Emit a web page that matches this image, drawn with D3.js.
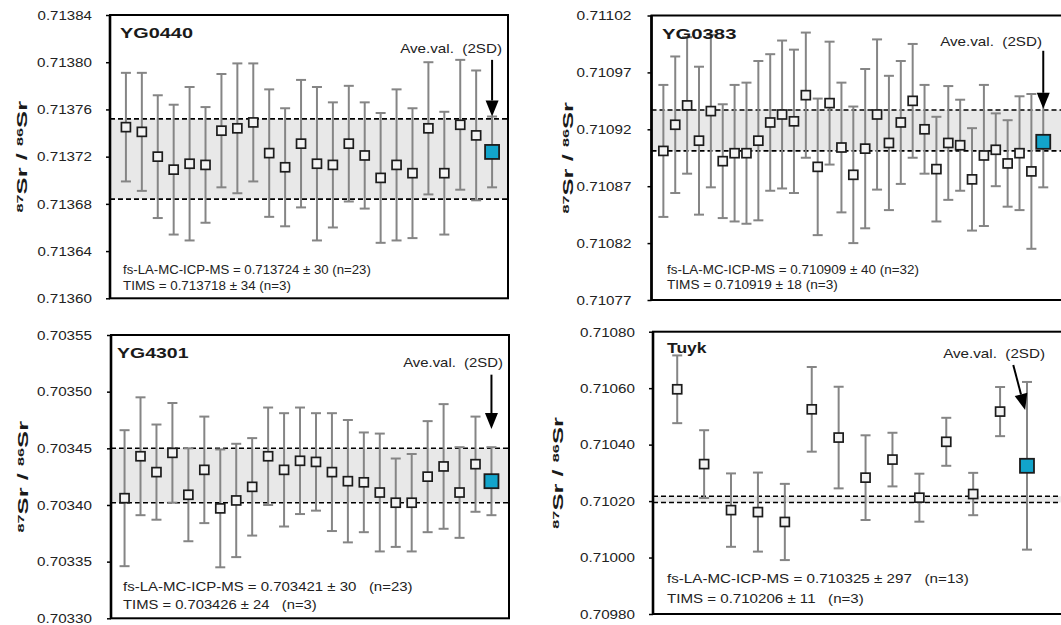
<!DOCTYPE html>
<html>
<head>
<meta charset="utf-8">
<script src="https://cdn.jsdelivr.net/npm/d3@7"></script>
<style>
  html, body { margin: 0; padding: 0; background: #fff; }
  svg { display: block; font-family: "Liberation Sans", Arial, sans-serif; }
  text { white-space: pre; }
</style>
</head>
<body>
<svg id="chart" width="1061" height="625"></svg>
<script>
// ---- Sample names ----
const sampleNames = ["YG0440", "YG0383", "YG4301", "Tuyk"];

// ---- Individual spot analyses: 87Sr/86Sr and 2SD ----
const yg0440Values = [0.713745, 0.713741, 0.713720, 0.713709, 0.713714, 0.713713, 0.713742, 0.713744,
  0.713749, 0.713723, 0.713711, 0.713731, 0.713714, 0.713713, 0.713731, 0.713721, 0.713702, 0.713713,
  0.713706, 0.713744, 0.713706, 0.713747, 0.713738];
const yg0440Errors = [0.000046, 0.000050, 0.000052, 0.000055, 0.000065, 0.000049, 0.000048, 0.000055,
  0.000050, 0.000054, 0.000050, 0.000054, 0.000065, 0.000053, 0.000049, 0.000045, 0.000055, 0.000064,
  0.000055, 0.000056, 0.000052, 0.000055, 0.000055];

const yg0383Values = [0.710901, 0.710924, 0.710941, 0.710910, 0.710936, 0.710892, 0.710899, 0.710899,
  0.710910, 0.710926, 0.710933, 0.710927, 0.710950, 0.710887, 0.710943, 0.710904, 0.710880, 0.710903,
  0.710933, 0.710908, 0.710926, 0.710945, 0.710920, 0.710885, 0.710908, 0.710906, 0.710876, 0.710897,
  0.710902, 0.710890, 0.710899, 0.710883];
const yg0383Errors = [0.000058, 0.000060, 0.000060, 0.000065, 0.000067, 0.000050, 0.000060, 0.000062,
  0.000070, 0.000060, 0.000065, 0.000063, 0.000055, 0.000060, 0.000054, 0.000057, 0.000060, 0.000070,
  0.000066, 0.000059, 0.000054, 0.000050, 0.000039, 0.000046, 0.000050, 0.000040, 0.000045, 0.000062,
  0.000032, 0.000038, 0.000050, 0.000068];

const yg4301Values = [0.703406, 0.703443, 0.703429, 0.703446, 0.703409, 0.703431, 0.703397, 0.703404,
  0.703416, 0.703443, 0.703431, 0.703439, 0.703438, 0.703429, 0.703421, 0.703420, 0.703411, 0.703402,
  0.703402, 0.703425, 0.703434, 0.703411, 0.703436];
const yg4301Errors = [0.000060, 0.000052, 0.000042, 0.000044, 0.000041, 0.000047, 0.000052, 0.000050,
  0.000043, 0.000043, 0.000050, 0.000047, 0.000043, 0.000052, 0.000054, 0.000044, 0.000052, 0.000039,
  0.000043, 0.000049, 0.000055, 0.000040, 0.000042];

const tuykValues = [0.710596, 0.710331, 0.710168, 0.710161, 0.710126, 0.710525, 0.710425, 0.710283,
  0.710347, 0.710212, 0.710410, 0.710225, 0.710517];
const tuykErrors = [0.000120, 0.000120, 0.000130, 0.000140, 0.000135, 0.000150, 0.000180, 0.000150,
  0.000095, 0.000085, 0.000085, 0.000075, 0.000087];

// ---- Averages [value, 2SD, n] ----
const yg0440Ave = [0.713724, 0.000030, 23];
const yg0383Ave = [0.710909, 0.000040, 32];
const yg4301Ave = [0.703421, 0.000030, 23];
const tuykAve   = [0.710325, 0.000297, 13];

// ---- TIMS reference values [value, 2SD, n] (shaded band) ----
const yg0440Tims = [0.713718, 0.000034, 3];
const yg0383Tims = [0.710919, 0.000018, 3];
const yg4301Tims = [0.703426, 0.000024, 3];
const tuykTims   = [0.710206, 0.000011, 3];

// ---- Y-axis tick values ----
const yg0440Ticks = [0.71360, 0.71364, 0.71368, 0.71372, 0.71376, 0.71380, 0.71384];
const yg0383Ticks = [0.71077, 0.71082, 0.71087, 0.71092, 0.71097, 0.71102];
const yg4301Ticks = [0.70330, 0.70335, 0.70340, 0.70345, 0.70350, 0.70355];
const tuykTicks   = [0.70980, 0.71000, 0.71020, 0.71040, 0.71060, 0.71080];

// ---- Arrow pointing to the average: [x0, y0, x1, y1] in data units ----
const yg0440Arrow = [24, 0.713802, 24, 0.713754];
const yg0383Arrow = [33, 0.710989, 33, 0.710938];
const yg4301Arrow = [24, 0.703515, 24, 0.703467];
const tuykArrow   = [13.49, 0.710682, 13.93, 0.710523];

// ---- Panel layout ----
const panels = [
  { name: sampleNames[0], values: yg0440Values, errors: yg0440Errors, ave: yg0440Ave, tims: yg0440Tims,
    ticks: yg0440Ticks, arrow: yg0440Arrow,
    frame: { left: 110, right: 508, top: 15, bottom: 298.3 }, xDomain: [0, 25],
    tickGap: 18, yLabelX: 27, title: [120, 38, 73], aveLabel: [502, 53, 102],
    notes: { x: 123, y: [274, 290], w: [248, 168], gap: " ", gap2: " " } },
  { name: sampleNames[1], values: yg0383Values, errors: yg0383Errors, ave: yg0383Ave, tims: yg0383Tims,
    ticks: yg0383Ticks, arrow: yg0383Arrow,
    frame: { left: 651.5, right: 1067, top: 15.5, bottom: 300 }, xDomain: [0, 35],
    tickGap: 20, yLabelX: 573, title: [662, 39, 75], aveLabel: [1042, 46, 102],
    notes: { x: 667, y: [274, 289], w: [252, 171], gap: " ", gap2: " " } },
  { name: sampleNames[2], values: yg4301Values, errors: yg4301Errors, ave: yg4301Ave, tims: yg4301Tims,
    ticks: yg4301Ticks, arrow: yg4301Arrow,
    frame: { left: 111, right: 509, top: 335, bottom: 618.3 }, xDomain: [0.15, 25.1],
    tickGap: 19, yLabelX: 28, title: [117, 358, 72], aveLabel: [503, 367, 100],
    notes: { x: 123, y: [590.5, 609], w: [290, 194], gap: "   ", gap2: "   " } },
  { name: sampleNames[3], values: tuykValues, errors: tuykErrors, ave: tuykAve, tims: tuykTims,
    ticks: tuykTicks, arrow: tuykArrow,
    frame: { left: 653, right: 1073, top: 331.7, bottom: 614 }, xDomain: [0.1, 15.71],
    tickGap: 18, yLabelX: 563, title: [667, 353, 40], aveLabel: [1045, 358, 102],
    notes: { x: 667, y: [583, 603], w: [302, 197], gap: "   ", gap2: "   " } }
];

const COLORS = {
  band: "#e8e8e8", errBar: "#858585", marker: "#1c1c1c", markerFill: "#f3f3f3",
  aveFill: "#12a4cb", axis: "#000"
};

const svg = d3.select("#chart");

// Stretch the text inside a positioned group horizontally to a target width.
function fitText(g, width) {
  const t = g.select("text");
  const w = t.node().getBBox().width;
  t.attr("transform", `scale(${width / w},1)`);
}

function drawPanel(p) {
  const f = p.frame;
  const x = d3.scaleLinear().domain(p.xDomain).range([f.left, f.right]);
  const y = d3.scaleLinear().domain(d3.extent(p.ticks)).range([f.bottom, f.top]);
  const g = svg.append("g");

  // TIMS band (value ± 2SD)
  const bandTop = p.tims[0] + p.tims[1];
  const bandBot = p.tims[0] - p.tims[1];
  g.append("rect")
    .attr("x", f.left).attr("width", f.right - f.left)
    .attr("y", y(bandTop)).attr("height", y(bandBot) - y(bandTop))
    .attr("fill", COLORS.band);
  g.selectAll("line.band").data([bandTop, bandBot]).join("line")
    .attr("class", "band")
    .attr("x1", f.left).attr("x2", f.right)
    .attr("y1", d => y(d)).attr("y2", d => y(d))
    .attr("stroke", "#000").attr("stroke-width", 1.6).attr("stroke-dasharray", "5,3");

  // Points: individual analyses followed by the average
  const pts = p.values.map((v, i) => ({ i: i + 1, v, e: p.errors[i], ave: false }));
  pts.push({ i: p.values.length + 1, v: p.ave[0], e: p.ave[1], ave: true });

  const cap = 5;
  const eb = g.append("g").attr("stroke", COLORS.errBar).attr("stroke-width", 2);
  pts.forEach(d => {
    const cx = x(d.i);
    eb.append("line").attr("x1", cx).attr("x2", cx).attr("y1", y(d.v + d.e)).attr("y2", y(d.v - d.e));
    eb.append("line").attr("x1", cx - cap).attr("x2", cx + cap).attr("y1", y(d.v + d.e)).attr("y2", y(d.v + d.e));
    eb.append("line").attr("x1", cx - cap).attr("x2", cx + cap).attr("y1", y(d.v - d.e)).attr("y2", y(d.v - d.e));
  });

  g.selectAll("rect.pt").data(pts).join("rect")
    .attr("class", "pt")
    .attr("x", d => x(d.i) - (d.ave ? 7 : 4.5))
    .attr("y", d => y(d.v) - (d.ave ? 7 : 4.5))
    .attr("width", d => d.ave ? 14 : 9)
    .attr("height", d => d.ave ? 14 : 9)
    .attr("fill", d => d.ave ? COLORS.aveFill : COLORS.markerFill)
    .attr("stroke", COLORS.marker)
    .attr("stroke-width", d => d.ave ? 1.8 : 1.7);

  // Arrow to the average value
  const [ax0, ay0, ax1, ay1] = p.arrow;
  const X0 = x(ax0), Y0 = y(ay0), X1 = x(ax1), Y1 = y(ay1);
  const ang = Math.atan2(Y1 - Y0, X1 - X0);
  const headL = 16, headW = 6.5;
  const bx = X1 - headL * Math.cos(ang), by = Y1 - headL * Math.sin(ang);
  g.append("line").attr("x1", X0).attr("y1", Y0).attr("x2", bx).attr("y2", by)
    .attr("stroke", "#000").attr("stroke-width", 2);
  const px = -Math.sin(ang), py = Math.cos(ang);
  g.append("path")
    .attr("d", `M${X1},${Y1}L${bx + px * headW},${by + py * headW}L${bx - px * headW},${by - py * headW}Z`)
    .attr("fill", "#000");

  // Frame
  g.append("rect")
    .attr("x", f.left).attr("y", f.top)
    .attr("width", f.right - f.left).attr("height", f.bottom - f.top)
    .attr("fill", "none").attr("stroke", COLORS.axis).attr("stroke-width", 2);
  g.append("line").attr("x1", f.left).attr("x2", f.left).attr("y1", f.top).attr("y2", f.bottom)
    .attr("stroke", COLORS.axis).attr("stroke-width", 2.6);

  // Y axis
  const axis = g.append("g").attr("transform", `translate(${f.left},0)`)
    .call(d3.axisLeft(y).tickValues(p.ticks).tickFormat(d3.format(".5f")).tickSize(4).tickPadding(0));
  axis.select(".domain").remove();
  axis.selectAll(".tick line").attr("stroke", "#000").attr("stroke-width", 1.5);
  axis.selectAll(".tick text")
    .attr("font-size", 13.5).attr("fill", "#222").attr("x", 0)
    .each(function () {
      const w = this.getBBox().width;
      d3.select(this).attr("transform", `translate(${-p.tickGap},0) scale(${55 / w},1)`);
    });

  // Y axis title: 87Sr / 86Sr
  const yl = g.append("g")
    .attr("transform", `translate(${p.yLabelX},${(f.top + f.bottom) / 2}) rotate(-90)`);
  const ylt = yl.append("text").attr("text-anchor", "middle")
    .attr("font-weight", "bold").attr("font-size", 15).attr("fill", "#1a1a1a");
  ylt.append("tspan").attr("font-size", 9.5).attr("baseline-shift", "45%").text("87");
  ylt.append("tspan").text("Sr / ");
  ylt.append("tspan").attr("font-size", 9.5).attr("baseline-shift", "45%").text("86");
  ylt.append("tspan").text("Sr");
  {
    const w = ylt.node().getBBox().width;
    ylt.attr("transform", `scale(${112 / w},1)`);
  }

  // Sample name
  const tg = g.append("g").attr("transform", `translate(${p.title[0]},${p.title[1]})`);
  tg.append("text").attr("font-weight", "bold").attr("font-size", 15.5).attr("fill", "#1a1a1a").text(p.name);
  fitText(tg, p.title[2]);

  // Average label
  const ag = g.append("g").attr("transform", `translate(${p.aveLabel[0]},${p.aveLabel[1]})`);
  ag.append("text").attr("text-anchor", "end").attr("font-size", 13).attr("fill", "#222")
    .text("Ave.val.  (2SD)");
  fitText(ag, p.aveLabel[2]);

  // Result lines
  const fmtErr = e => Math.round(e * 1e6);
  const lines = [
    "fs-LA-MC-ICP-MS = " + p.ave[0].toFixed(6) + " ± " + fmtErr(p.ave[1]) + p.notes.gap + "(n=" + p.ave[2] + ")",
    "TIMS = " + p.tims[0].toFixed(6) + " ± " + fmtErr(p.tims[1]) + p.notes.gap2 + "(n=" + p.tims[2] + ")"
  ];
  lines.forEach((ln, k) => {
    const lg = g.append("g").attr("transform", `translate(${p.notes.x},${p.notes.y[k]})`);
    lg.append("text").attr("font-size", 13).attr("fill", "#222").text(ln);
    fitText(lg, p.notes.w[k]);
  });
}

panels.forEach(drawPanel);
</script>
</body>
</html>
